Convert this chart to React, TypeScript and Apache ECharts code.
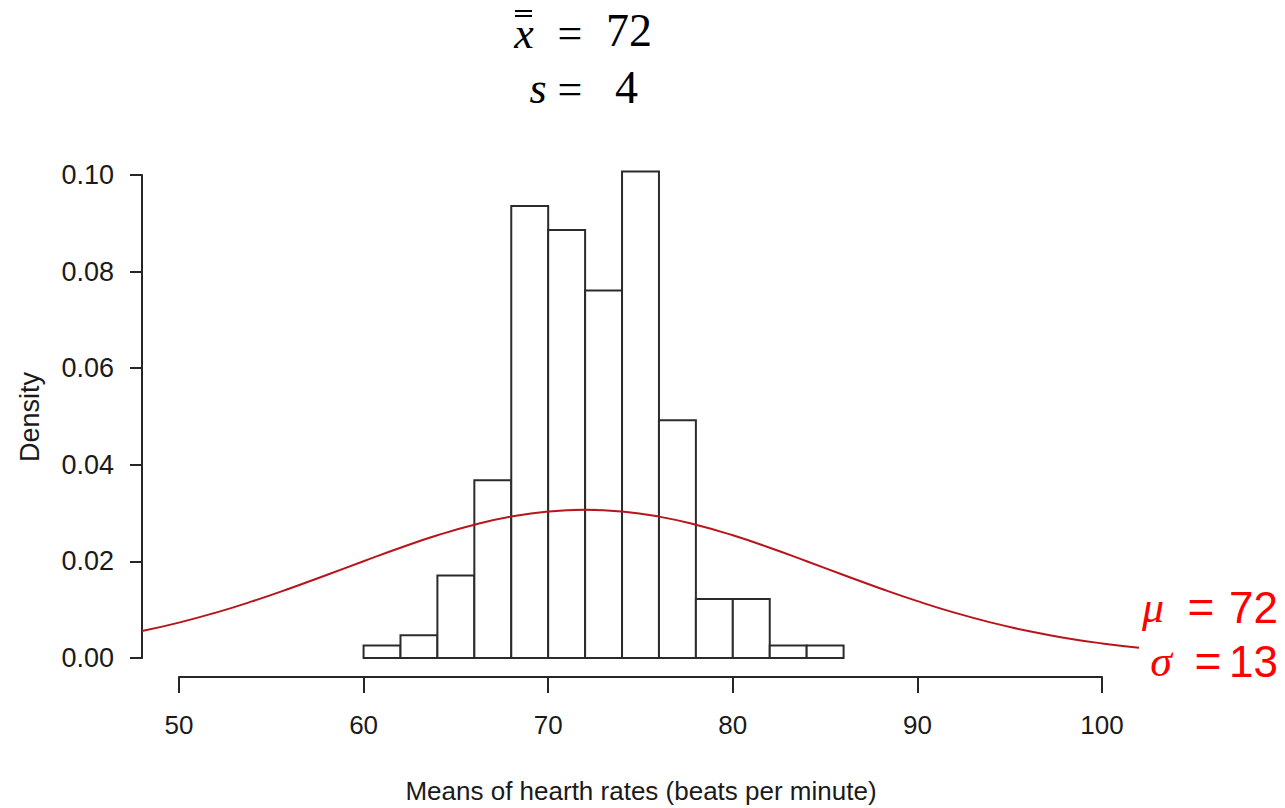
import React, { useEffect, useRef } from "react";
import * as echarts from "echarts";

// Histogram bins (left edges) and their densities
const binLeft = [60, 62, 64, 66, 68, 70, 72, 74, 76, 78, 80, 82, 84];
const binWidth = 2;
const density = [0.0026, 0.0047, 0.0171, 0.0368, 0.0936, 0.0886, 0.0761, 0.1007, 0.0492, 0.0122, 0.0122, 0.0026, 0.0026];

// Red curve points (normal curve, mu = 72, sigma = 13)
const curveX = [48, 50, 52, 54, 56, 58, 60, 62, 64, 66, 68, 70, 72, 74, 76, 78, 80, 82, 84, 86, 88, 90, 92, 94, 96, 98, 100, 102];
const curveY = [0.00558, 0.00733, 0.0094, 0.01177, 0.01439, 0.01719, 0.02004, 0.02283, 0.0254, 0.02759, 0.02927, 0.03033, 0.03069, 0.03033, 0.02927, 0.02759, 0.0254, 0.02283, 0.02004, 0.01719, 0.01439, 0.01177, 0.0094, 0.00733, 0.00558, 0.00415, 0.00302, 0.00214];

const xTicks = [50, 60, 70, 80, 90, 100];
const yTicks = [0, 0.02, 0.04, 0.06, 0.08, 0.1];

const SANS = '"Liberation Sans", Arial, sans-serif';
const SERIF = '"Liberation Serif", "DejaVu Serif", serif';

export default function App() {
  const ref = useRef<HTMLDivElement>(null);
  useEffect(() => {
    if (!ref.current) return;
    const chart = echarts.init(ref.current, null, { renderer: "svg" });
    const barData = binLeft.map((l, i) => [l, l + binWidth, density[i]]);
    const lineData = curveX.map((x, i) => [x, curveY[i]]);
    const axisColor = "#262626";
    chart.setOption({
      animation: false,
      backgroundColor: "#ffffff",
      grid: [
        { left: 142, right: 146, top: 175, bottom: 150 },
        { left: 179, right: 183, top: 600, bottom: 131 },
      ],
      xAxis: [
        { type: "value", gridIndex: 0, min: 48, max: 102, show: false },
        {
          type: "value",
          gridIndex: 1,
          min: xTicks[0],
          max: xTicks[xTicks.length - 1],
          interval: 10,
          axisLine: { show: true, lineStyle: { color: axisColor, width: 2 } },
          axisTick: { show: true, length: 16, lineStyle: { color: axisColor, width: 2 } },
          axisLabel: { fontSize: 26, fontFamily: SANS, color: "#1a1a1a", margin: 35 },
          splitLine: { show: false },
        },
      ],
      yAxis: [
        {
          type: "value",
          gridIndex: 0,
          min: yTicks[0],
          max: yTicks[yTicks.length - 1],
          interval: 0.02,
          axisLine: { show: true, lineStyle: { color: axisColor, width: 2 } },
          axisTick: { show: true, length: 12, lineStyle: { color: axisColor, width: 2 } },
          axisLabel: {
            fontSize: 27,
            fontFamily: SANS,
            color: "#1a1a1a",
            margin: 28,
            formatter: (v: number) => v.toFixed(2),
          },
          splitLine: { show: false },
        },
        { type: "value", gridIndex: 1, min: 0, max: 1, show: false },
      ],
      series: [
        {
          type: "custom",
          xAxisIndex: 0,
          yAxisIndex: 0,
          data: barData,
          encode: { x: [0, 1], y: 2 },
          renderItem: (params: any, api: any) => {
            const p0 = api.coord([api.value(0), api.value(2)]);
            const p1 = api.coord([api.value(1), 0]);
            return {
              type: "rect",
              shape: { x: p0[0], y: p0[1], width: p1[0] - p0[0], height: p1[1] - p0[1] },
              style: { fill: "#ffffff", stroke: "#2b2b2b", lineWidth: 2 },
            };
          },
          z: 2,
        },
        {
          type: "line",
          xAxisIndex: 0,
          yAxisIndex: 0,
          data: lineData,
          smooth: true,
          showSymbol: false,
          lineStyle: { color: "#b8141c", width: 2 },
          z: 3,
        },
      ],
      graphic: [
        // axis titles
        {
          type: "text",
          x: 641,
          y: 791,
          style: { text: "Means of hearth rates (beats per minute)", font: `26px ${SANS}`, fill: "#1a1a1a", textAlign: "center", textVerticalAlign: "middle" },
        },
        {
          type: "text",
          x: 30,
          y: 417,
          rotation: Math.PI / 2,
          style: { text: "Density", font: `27px ${SANS}`, fill: "#1a1a1a", textAlign: "center", textVerticalAlign: "middle" },
        },
        // top annotation: double-bar x = 72, s = 4
        { type: "text", x: 524, y: 33, style: { text: "x", font: `italic 44px ${SERIF}`, fill: "#000", textAlign: "center", textVerticalAlign: "middle" } },
        { type: "line", shape: { x1: 515, y1: 11, x2: 532, y2: 11 }, style: { stroke: "#000", lineWidth: 2 } },
        { type: "line", shape: { x1: 515, y1: 16, x2: 532, y2: 16 }, style: { stroke: "#000", lineWidth: 2 } },
        { type: "text", x: 570, y: 33, style: { text: "=", font: `44px ${SERIF}`, fill: "#000", textAlign: "center", textVerticalAlign: "middle" } },
        { type: "text", x: 652, y: 30, style: { text: "72", font: `46px ${SERIF}`, fill: "#000", textAlign: "right", textVerticalAlign: "middle" } },
        { type: "text", x: 538, y: 88, style: { text: "s", font: `italic 44px ${SERIF}`, fill: "#000", textAlign: "center", textVerticalAlign: "middle" } },
        { type: "text", x: 570, y: 89, style: { text: "=", font: `44px ${SERIF}`, fill: "#000", textAlign: "center", textVerticalAlign: "middle" } },
        { type: "text", x: 638, y: 87, style: { text: "4", font: `46px ${SERIF}`, fill: "#000", textAlign: "right", textVerticalAlign: "middle" } },
        // red annotation: mu = 72, sigma = 13
        { type: "text", x: 1153, y: 607, style: { text: "μ", font: `italic 44px ${SERIF}`, fill: "#ff0000", textAlign: "center", textVerticalAlign: "middle" } },
        { type: "text", x: 1201, y: 607, style: { text: "=", font: `46px ${SANS}`, fill: "#ff0000", textAlign: "center", textVerticalAlign: "middle" } },
        { type: "text", x: 1278, y: 607, style: { text: "72", font: `44px ${SANS}`, fill: "#ff0000", textAlign: "right", textVerticalAlign: "middle" } },
        { type: "text", x: 1161, y: 661, style: { text: "σ", font: `italic 44px ${SERIF}`, fill: "#ff0000", textAlign: "center", textVerticalAlign: "middle" } },
        { type: "text", x: 1208, y: 661, style: { text: "=", font: `46px ${SANS}`, fill: "#ff0000", textAlign: "center", textVerticalAlign: "middle" } },
        { type: "text", x: 1278, y: 661, style: { text: "13", font: `44px ${SANS}`, fill: "#ff0000", textAlign: "right", textVerticalAlign: "middle" } },
      ],
    });
    return () => chart.dispose();
  }, []);
  return (
    <div
      ref={ref}
      style={{ position: "absolute", left: 0, top: 0, width: 1285, height: 808 }}
    />
  );
}
